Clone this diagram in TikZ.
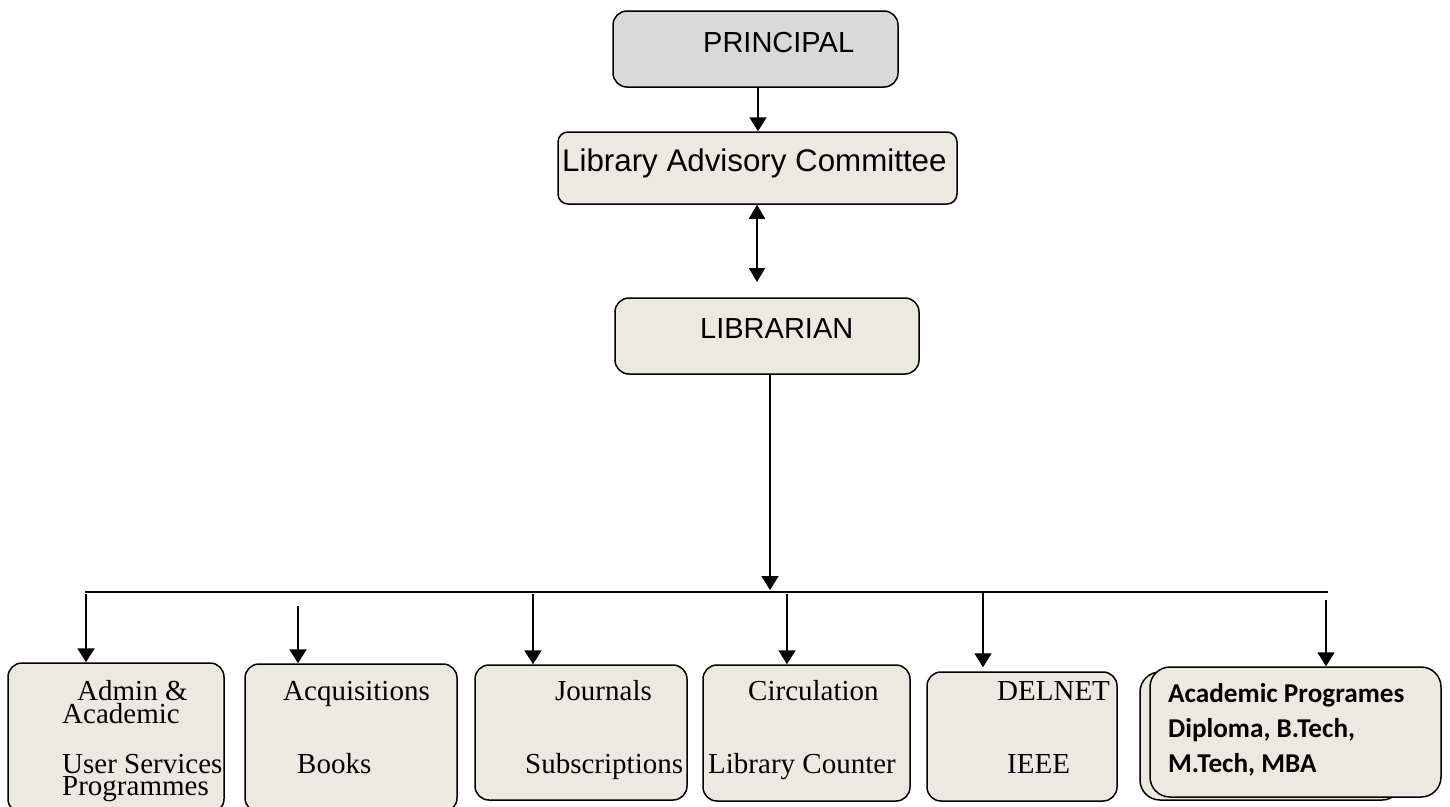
\documentclass[tikz,border=0pt]{standalone}
\usepackage{fontspec}
\setmainfont{Liberation Serif}
\newfontfamily\arialf{Liberation Sans}
\newfontfamily\calibrif{Carlito}
\usetikzlibrary{arrows.meta}
\definecolor{beige}{HTML}{ECEAE0}
\definecolor{grayfill}{HTML}{D9D9D9}
\begin{document}
\begin{tikzpicture}[x=1pt,y=-1pt,
  box/.style={draw=black, line width=1.5pt, rounded corners=14pt, fill=beige, inner sep=0pt},
  arr/.style={line width=2pt, -{Triangle[width=17pt,length=14pt]}},
  dbl/.style={line width=2pt, {Triangle[width=16pt,length=14pt]}-{Triangle[width=16pt,length=14pt]}},
  sanslbl/.style={anchor=base west, inner sep=0pt, font=\arialf\fontsize{29}{35}\selectfont},
  seriflbl/.style={anchor=base west, inner sep=0pt, font=\fontsize{29}{35}\selectfont},
  boldlbl/.style={anchor=base west, inner sep=0pt, font=\calibrif\bfseries\fontsize{27.2}{36}\selectfont}
]
\useasboundingbox (0,0) rectangle (1450,806);
\fill[white] (0,0) rectangle (1450,806);

% top boxes
\node[box, fill=grayfill, minimum width=285pt, minimum height=76pt] (principal) at (755.5,49) {};
\node[sanslbl] (tprincipal) at (703,52) {PRINCIPAL};
\node[box, rounded corners=10pt, minimum width=399pt, minimum height=72pt] (lac) at (757.5,168) {};
\node[sanslbl, font=\arialf\fontsize{31.3}{35}\selectfont] (tlac) at (562,171) {Library Advisory Committee};
\node[box, minimum width=304pt, minimum height=76pt] (librarian) at (767,336) {};
\node[sanslbl] (tlibrarian) at (700,338) {LIBRARIAN};

% bottom boxes
\node[box, minimum width=216pt, minimum height=150pt] (b1) at (116,738) {};
\node[box, minimum width=212pt, minimum height=148pt] (b2) at (351,738) {};
\node[box, minimum width=212pt, minimum height=135pt] (b3) at (581,732.5) {};
\node[box, minimum width=207pt, minimum height=136pt] (b4) at (806.5,733) {};
\node[box, minimum width=190pt, minimum height=129pt] (b5) at (1022,736.5) {};
\node[box, rounded corners=20pt, minimum width=262pt, minimum height=128pt] (b6back) at (1271,736) {};
\node[box, rounded corners=20pt, minimum width=291pt, minimum height=130pt] (b6) at (1295.5,732) {};

% labels
\node[seriflbl] (t1a) at (77,700) {Admin \&};
\node[seriflbl] (t1b) at (62,723) {Academic};
\node[seriflbl] (t1c) at (62,773) {User Services};
\node[seriflbl] (t1d) at (62,795) {Programmes};
\node[seriflbl] (t2a) at (283,700) {Acquisitions};
\node[seriflbl] (t2b) at (297,773) {Books};
\node[seriflbl] (t3a) at (555,700) {Journals};
\node[seriflbl] (t3b) at (525,773) {Subscriptions};
\node[seriflbl] (t4a) at (748,700) {Circulation};
\node[seriflbl] (t4b) at (708,773) {Library Counter};
\node[seriflbl] (t5a) at (997,700) {DELNET};
\node[seriflbl] (t5b) at (1007,773) {IEEE};
\node[boldlbl] (t6a) at (1168,702) {Academic Programes};
\node[boldlbl] (t6b) at (1168,737) {Diploma, B.Tech,};
\node[boldlbl] (t6c) at (1168,772) {M.Tech, MBA};

% bus
\coordinate (busL) at (85,592);
\coordinate (busR) at (1328,592);
\coordinate (busC) at (770,592);
\draw[line width=1.6pt] (busL) -- (busR);

% connectors
\draw[arr] (principal.south -| 758,0) -- (lac.north -| 758,0);
\coordinate (dblend) at (757,282);
\draw[dbl] (lac.south -| dblend) -- (dblend);
\draw[arr] (librarian.south -| busC) -- ([yshift=2pt]busC);

\coordinate (d1) at (86,594);
\coordinate (d2) at (298,606);
\coordinate (d3) at (533,594);
\coordinate (d4) at (787,594);
\coordinate (d5) at (983,592);
\coordinate (d6) at (1326,600);
\draw[arr] (d1) -- (b1.north -| d1);
\draw[arr] (d2) -- (b2.north -| d2);
\draw[arr] (d3) -- (b3.north -| d3);
\draw[arr] (d4) -- (b4.north -| d4);
\draw[arr, line width=1.1pt] (d5) -- ([yshift=4pt]b5.north -| d5);
\draw[arr] (d6) -- (b6.north -| d6);
\end{tikzpicture}
\end{document}
